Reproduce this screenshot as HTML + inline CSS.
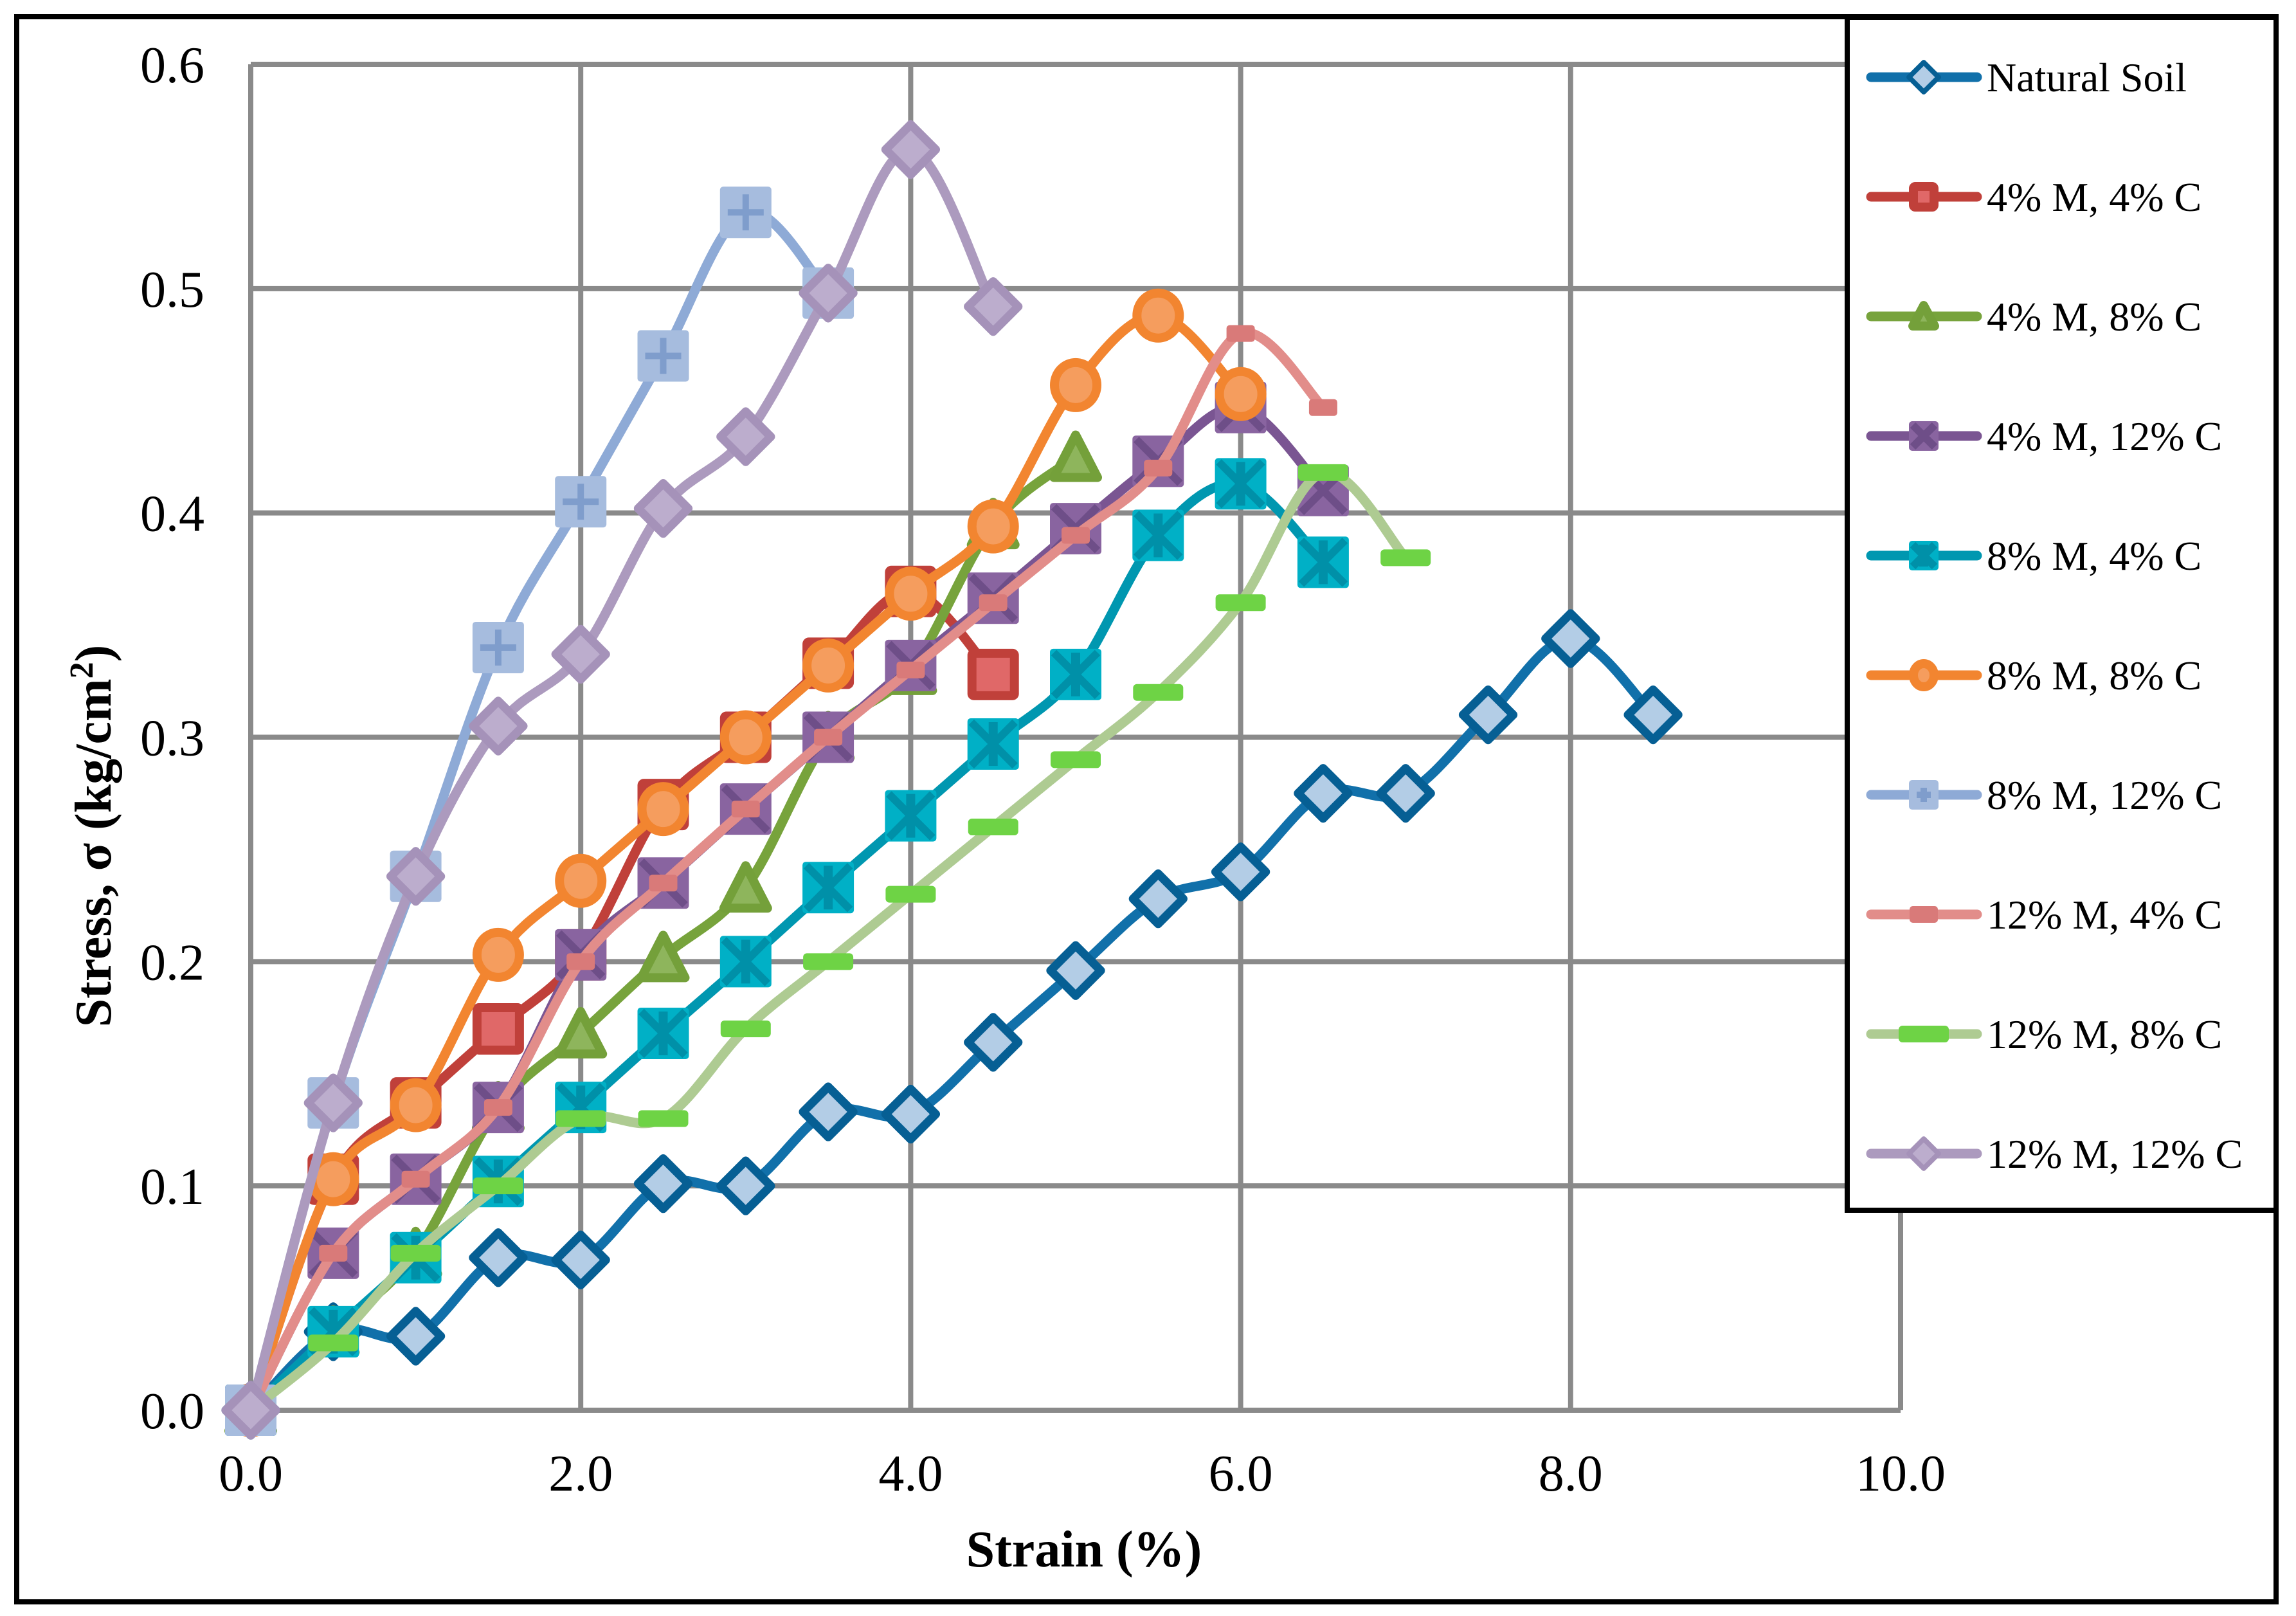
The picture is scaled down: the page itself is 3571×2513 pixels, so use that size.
<!DOCTYPE html>
<html><head><meta charset="utf-8"><style>
html,body{margin:0;padding:0;background:#fff;}
svg{display:block;}
text{font-family:"Liberation Serif","Times New Roman",serif;fill:#000;}
</style></head><body>
<svg id="chart" width="3571" height="2513" viewBox="0 0 3571 2513" xmlns="http://www.w3.org/2000/svg">
<rect x="26" y="26" width="3514" height="2465" fill="#fff" stroke="#000" stroke-width="8"/>
<g id="grid"></g>
<g id="series"></g>
<g id="axes"></g>
<g id="legend"></g>
</svg>
<script>
const xTicks = [0, 2, 4, 6, 8, 10];
const yTicks = [0, 0.1, 0.2, 0.3, 0.4, 0.5, 0.6];
const strain = [0,0.5,1,1.5,2,2.5,3,3.5,4,4.5,5,5.5,6,6.5,7,7.5,8,8.5];
const seriesNames = ["Natural Soil","4% M, 4% C","4% M, 8% C","4% M, 12% C","8% M, 4% C","8% M, 8% C","8% M, 12% C","12% M, 4% C","12% M, 8% C","12% M, 12% C"];
const naturalSoil = [0,0.035,0.033,0.068,0.067,0.101,0.1,0.133,0.132,0.164,0.196,0.228,0.24,0.275,0.275,0.31,0.344,0.31];
const m4c4 = [0,0.103,0.137,0.17,0.203,0.27,0.3,0.333,0.365,0.328];
const m4c8 = [0,0.035,0.07,0.135,0.168,0.202,0.233,0.3,0.33,0.395,0.425];
const m4c12 = [0,0.07,0.103,0.135,0.203,0.235,0.268,0.3,0.332,0.362,0.393,0.423,0.447,0.41];
const m8c4 = [0,0.035,0.068,0.102,0.135,0.168,0.2,0.233,0.265,0.297,0.328,0.39,0.413,0.378];
const m8c8 = [0,0.103,0.136,0.203,0.236,0.268,0.3,0.332,0.364,0.394,0.457,0.488,0.453];
const m8c12 = [0,0.137,0.238,0.34,0.405,0.47,0.534,0.498];
const m12c4 = [0,0.07,0.103,0.135,0.2,0.235,0.268,0.3,0.33,0.36,0.39,0.42,0.48,0.447];
const m12c8 = [0,0.03,0.07,0.1,0.13,0.13,0.17,0.2,0.23,0.26,0.29,0.32,0.36,0.418,0.38];
const m12c12 = [0,0.137,0.238,0.305,0.337,0.402,0.434,0.498,0.562,0.492];

const X0=390, X1=2956, Y0=2193, Y1=100;
function sx(v){return X0+(v-0)/(10-0)*(X1-X0);}
function sy(v){return Y0-(v-0)/(0.6-0)*(Y0-Y1);}
const NS="http://www.w3.org/2000/svg";
function mk(tag,attrs,parent){const e=document.createElementNS(NS,tag);for(const k in attrs)e.setAttribute(k,attrs[k]);parent.appendChild(e);return e;}

const grid=document.getElementById('grid');
xTicks.forEach(t=>{
  const l=mk('line',{x1:sx(t),y1:Y1,x2:sx(t),y2:Y0,stroke:'#8a8a8a','stroke-width':8},grid);
  
  
});
yTicks.forEach(t=>{
  const l=mk('line',{x1:X0,y1:sy(t),x2:X1,y2:sy(t),stroke:'#8a8a8a','stroke-width':8},grid);
  
  
});

const axes=document.getElementById('axes');
xTicks.forEach(t=>{
  const tx=mk('text',{x:sx(t),y:2318,'font-size':80,'text-anchor':'middle'},axes);
  tx.textContent=t.toFixed(1);
  
  
});
yTicks.forEach(t=>{
  const tx=mk('text',{x:318,y:sy(t)+28,'font-size':80,'text-anchor':'end'},axes);
  tx.textContent=t.toFixed(1);
  
  
});
const xt=mk('text',{x:1686,y:2436,'font-size':80,'font-weight':'bold','text-anchor':'middle'},axes);
xt.textContent='Strain (%)';


const yt=mk('text',{x:0,y:0,'font-size':80,'font-weight':'bold','text-anchor':'middle',transform:'translate(172,1300) rotate(-90)'},axes);
yt.innerHTML='Stress, σ (kg/cm<tspan dy="-28" font-size="52">2</tspan><tspan dy="28">)</tspan>';



const styles=[
 {line:'#1170aa',type:'diamond',stroke:'#065f94',fill:'#b3cde6'},
 {line:'#c0403a',type:'square',stroke:'#c0403a',fill:'#e06868'},
 {line:'#77a33c',type:'triangle',stroke:'#74a03a',fill:'#8eb55c'},
 {line:'#7a5592',type:'xsquare',stroke:'#6e4e88',fill:'#8964a0'},
 {line:'#0097b0',type:'stsquare',stroke:'#0090a8',fill:'#00b0c6'},
 {line:'#f28530',type:'circle',stroke:'#f28530',fill:'#f59d5e'},
 {line:'#8eaad6',type:'plussquare',stroke:'#8aa6d2',fill:'#a6bcde'},
 {line:'#e28d8a',type:'pinkdash',stroke:'#d97a79',fill:'#d97a79'},
 {line:'#aecb92',type:'greendash',stroke:'#6ed345',fill:'#6ed345'},
 {line:'#ac9abe',type:'diamond',stroke:'#a592b9',fill:'#bcadcd'}
];
const data=[naturalSoil,m4c4,m4c8,m4c12,m8c4,m8c8,m8c12,m12c4,m12c8,m12c12];

function smoothPath(pts){
  let d='M'+pts[0][0]+','+pts[0][1];
  for(let i=0;i<pts.length-1;i++){
    const p0=pts[Math.max(i-1,0)],p1=pts[i],p2=pts[i+1],p3=pts[Math.min(i+2,pts.length-1)];
    const t=1/6;
    const c1=[p1[0]+(p2[0]-p0[0])*t,p1[1]+(p2[1]-p0[1])*t];
    const c2=[p2[0]-(p3[0]-p1[0])*t,p2[1]-(p3[1]-p1[1])*t];
    d+=' C'+c1[0]+','+c1[1]+' '+c2[0]+','+c2[1]+' '+p2[0]+','+p2[1];
  }
  return d;
}
function marker(g,st,x,y,s){
  const h=s/2;
  if(st.type==='diamond'){
    mk('polygon',{points:`${x},${y-h} ${x+h},${y} ${x},${y+h} ${x-h},${y}`,fill:st.fill,stroke:st.stroke,'stroke-width':s*0.17,'stroke-linejoin':'round'},g);
  }else if(st.type==='square'){
    mk('rect',{x:x-h+7,y:y-h+7,width:s-14,height:s-14,fill:st.fill,stroke:st.stroke,'stroke-width':14,rx:3},g);
  }else if(st.type==='triangle'){
    mk('polygon',{points:`${x},${y-h+6} ${x+h-6},${y+h-8} ${x-h+6},${y+h-8}`,fill:st.fill,stroke:st.stroke,'stroke-width':14,'stroke-linejoin':'round'},g);
  }else if(st.type==='circle'){
    mk('ellipse',{cx:x,cy:y,rx:h-7,ry:h-5,fill:st.fill,stroke:st.stroke,'stroke-width':14},g);
  }else if(st.type==='xsquare'||st.type==='stsquare'||st.type==='plussquare'){
    mk('rect',{x:x-h,y:y-h,width:s,height:s,fill:st.fill,rx:5},g);
    const a=h-6;
    if(st.type!=='plussquare'){
      mk('line',{x1:x-a,y1:y-a,x2:x+a,y2:y+a,stroke:st.stroke,'stroke-width':12},g);
      mk('line',{x1:x-a,y1:y+a,x2:x+a,y2:y-a,stroke:st.stroke,'stroke-width':12},g);
    }
    if(st.type==='stsquare'){
      mk('line',{x1:x,y1:y-a,x2:x,y2:y+a,stroke:st.stroke,'stroke-width':14},g);
    }
    if(st.type==='plussquare'){
      mk('line',{x1:x,y1:y-a+6,x2:x,y2:y+a-6,stroke:'#7f9dcc','stroke-width':10},g);
      mk('line',{x1:x-a+6,y1:y,x2:x+a-6,y2:y,stroke:'#7f9dcc','stroke-width':10},g);
    }
  }else if(st.type==='pinkdash'){
    mk('rect',{x:x-22,y:y-13,width:44,height:26,fill:st.fill,rx:5},g);
  }else if(st.type==='greendash'){
    mk('rect',{x:x-39,y:y-13,width:78,height:26,fill:st.fill,rx:6},g);
  }
}

const sg=document.getElementById('series');
data.forEach((vals,si)=>{
  const st=styles[si];
  const g=mk('g',{},sg);
  
  
  const pts=vals.map((v,i)=>[sx(strain[i]),sy(v)]);
  const p=mk('path',{d:smoothPath(pts),fill:'none',stroke:st.line,'stroke-width':15,'stroke-linejoin':'round','stroke-linecap':'round'},g);
  
  
  pts.forEach(pt=>{
    const mg=mk('g',{},g);
    
    
    marker(mg,st,pt[0],pt[1],st.type==='diamond'?78:80);
  });
});

const lg=document.getElementById('legend');
const box=mk('rect',{x:2873,y:27,width:667,height:1855,fill:'#fff',stroke:'#000','stroke-width':8},lg);


seriesNames.forEach((n,i)=>{
  const st=styles[i];
  const y=120+i*186;
  const g=mk('g',{},lg);
  
  
  mk('line',{x1:2910,y1:y,x2:3075,y2:y,stroke:st.line,'stroke-width':15,'stroke-linecap':'round'},g);
  marker(g,st,2992,y,st.type==='greendash'||st.type==='pinkdash'?60:46);
  const t=mk('text',{x:3090,y:y+22,'font-size':64},g);
  t.textContent=n;
  
  
});
</script>
</body></html>
